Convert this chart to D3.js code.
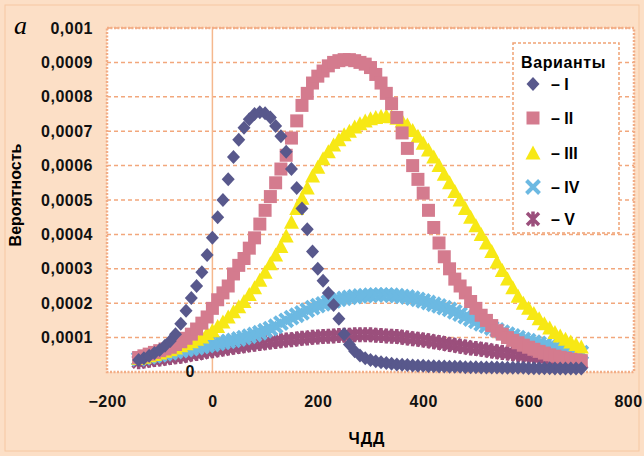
<!DOCTYPE html>
<html>
<head>
<meta charset="utf-8">
<script src="https://cdn.jsdelivr.net/npm/d3@7"></script>
<style>
  body { margin: 0; background: #fce2cb; }
  text { font-family: "Liberation Sans", Arial, sans-serif; }
</style>
</head>
<body>
<div id="my_dataviz"></div>
<script>

// x values (ЧДД)
var xs = [-140,-130,-120,-110,-100,-90,-80,-70,-60,-50,
          -40,-30,-20,-10,0,10,20,30,40,50,
          60,70,80,90,100,110,120,130,140,150,
          160,170,180,190,200,210,220,230,240,250,
          260,270,280,290,300,310,320,330,340,350,
          360,370,380,390,400,410,420,430,440,450,
          460,470,480,490,500,510,520,530,540,550,
          560,570,580,590,600,610,620,630,640,650,
          660,670,680,690,700];

// probabilities, in units of 0.0001
var seriesI = [0.35,0.4,0.47,0.55,0.64,0.76,0.9,1.1,1.4,1.78,
               2.15,2.5,2.9,3.4,3.9,4.5,5.0,5.6,6.25,6.75,
               7.1,7.35,7.5,7.55,7.52,7.4,7.15,6.85,6.4,5.9,
               5.35,4.75,4.15,3.5,3.0,2.65,2.3,1.95,1.55,1.1,
               0.8,0.6,0.48,0.4,0.35,0.31,0.28,0.26,0.24,0.22,
               0.21,0.2,0.19,0.18,0.18,0.17,0.17,0.16,0.16,0.15,
               0.15,0.15,0.14,0.14,0.14,0.13,0.13,0.13,0.13,0.12,
               0.12,0.12,0.12,0.12,0.11,0.11,0.11,0.11,0.11,0.1,
               0.1,0.1,0.1,0.1,0.1];
var seriesII = [0.42,0.47,0.52,0.57,0.62,0.67,0.72,0.8,0.88,0.98,
                1.1,1.25,1.42,1.6,1.85,2.1,2.3,2.5,2.85,3.1,
                3.3,3.6,3.9,4.3,4.7,5.1,5.5,5.9,6.3,6.8,
                7.3,7.75,8.1,8.4,8.6,8.75,8.9,9.0,9.05,9.08,
                9.08,9.05,9.0,8.95,8.85,8.65,8.4,8.1,7.8,7.4,
                6.95,6.5,6.0,5.6,5.2,4.7,4.2,3.75,3.35,3.0,
                2.7,2.5,2.3,2.05,1.85,1.65,1.5,1.35,1.2,1.1,
                1.0,0.92,0.85,0.78,0.72,0.66,0.6,0.55,0.5,0.46,
                0.43,0.4,0.37,0.35,0.33];
var seriesIII = [0.4,0.43,0.47,0.51,0.55,0.6,0.65,0.7,0.76,0.82,
                 0.88,0.95,1.02,1.12,1.2,1.32,1.45,1.6,1.75,1.9,
                 2.05,2.25,2.45,2.67,2.9,3.15,3.4,3.65,3.95,4.35,
                 4.75,5.05,5.35,5.7,5.95,6.2,6.4,6.6,6.75,6.9,
                 7.0,7.12,7.22,7.3,7.36,7.4,7.43,7.44,7.42,7.38,
                 7.3,7.18,7.02,6.85,6.65,6.45,6.25,6.0,5.75,5.5,
                 5.25,5.0,4.75,4.5,4.25,4.0,3.75,3.5,3.2,2.95,
                 2.7,2.45,2.2,2.0,1.85,1.7,1.55,1.4,1.28,1.15,
                 1.05,0.95,0.87,0.8,0.73];
var seriesIV = [0.38,0.41,0.44,0.47,0.5,0.53,0.56,0.59,0.62,0.65,
                0.68,0.71,0.74,0.77,0.8,0.83,0.86,0.89,0.92,0.96,
                1.0,1.04,1.09,1.14,1.2,1.26,1.33,1.42,1.5,1.58,
                1.65,1.72,1.8,1.87,1.93,1.98,2.03,2.07,2.11,2.14,
                2.17,2.19,2.21,2.22,2.23,2.24,2.24,2.24,2.23,2.22,
                2.2,2.18,2.15,2.11,2.07,2.02,1.97,1.92,1.87,1.82,
                1.75,1.68,1.61,1.54,1.47,1.4,1.34,1.28,1.22,1.16,
                1.1,1.05,1.0,0.95,0.91,0.87,0.83,0.79,0.75,0.71,
                0.68,0.65,0.62,0.59,0.56];
var seriesV = [0.3,0.32,0.34,0.36,0.38,0.4,0.42,0.44,0.46,0.49,
               0.52,0.54,0.57,0.6,0.62,0.65,0.67,0.7,0.72,0.74,
               0.76,0.79,0.81,0.83,0.85,0.87,0.89,0.91,0.93,0.94,
               0.96,0.98,0.99,1.01,1.02,1.03,1.04,1.05,1.06,1.07,
               1.07,1.08,1.08,1.08,1.08,1.07,1.06,1.05,1.04,1.03,
               1.01,0.99,0.97,0.95,0.93,0.91,0.88,0.86,0.83,0.8,
               0.78,0.75,0.73,0.7,0.68,0.66,0.64,0.61,0.59,0.57,
               0.55,0.53,0.51,0.48,0.46,0.44,0.42,0.4,0.38,0.36,
               0.34,0.32,0.3,0.29,0.28];

var seriesNames = ["– I", "– II", "– III", "– IV", "– V"];
var xTicks = [-200, 0, 200, 400, 600, 800];
var yTicks = [1, 2, 3, 4, 5, 6, 7, 8, 9, 10];
var yTickLabels = ["0,0001","0,0002","0,0003","0,0004","0,0005","0,0006","0,0007","0,0008","0,0009","0,001"];

var W = 644, H = 456;

var svg = d3.select("#my_dataviz")
  .append("svg")
  .attr("width", W)
  .attr("height", H);

// background
svg.append("rect")
  .attr("width", W).attr("height", H)
  .attr("fill", "#fcdfc6");
svg.append("rect")
  .attr("x", 5).attr("y", 5).attr("width", 634).attr("height", 446)
  .attr("fill", "none").attr("stroke", "#f6c8a2");

var x = d3.scaleLinear().domain([-200, 800]).range([107, 634]);
var y = d3.scaleLinear().domain([0, 10]).range([372, 28]);

// plot area
svg.append("rect")
  .attr("x", x(-200)).attr("y", y(10))
  .attr("width", x(800) - x(-200)).attr("height", y(0) - y(10))
  .attr("fill", "white");

// horizontal grid
svg.append("g")
  .selectAll("line")
  .data(yTicks)
  .enter()
  .append("line")
    .attr("x1", x(-200)).attr("x2", x(800))
    .attr("y1", function(d) { return y(d) })
    .attr("y2", function(d) { return y(d) })
    .attr("stroke", "#f2a77c")
    .attr("stroke-width", 1.5)
    .attr("stroke-dasharray", "4,3");

// y axis line at x = 0
svg.append("line")
  .attr("x1", x(0)).attr("x2", x(0))
  .attr("y1", y(10)).attr("y2", y(0))
  .attr("stroke", "#f5b88e")
  .attr("stroke-width", 1.5);

// plot border
svg.append("rect")
  .attr("x", x(-200)).attr("y", y(10))
  .attr("width", x(800) - x(-200)).attr("height", y(0) - y(10))
  .attr("fill", "none")
  .attr("stroke", "#f2ad86")
  .attr("stroke-width", 2.5)
  .attr("stroke-dasharray", "2,1.5");

// marker shapes
var markers = [
  { d: "M0,-7L6.5,0L0,7L-6.5,0Z", fill: "#58588c", stroke: "none", sw: 0 },
  { d: "M-6.5,-6.5h13v13h-13Z", fill: "#d47b8e", stroke: "none", sw: 0 },
  { d: "M0,-7.5L7.5,6.5H-7.5Z", fill: "#f7e815", stroke: "none", sw: 0 },
  { d: "M-6.5,-6.5L6.5,6.5M6.5,-6.5L-6.5,6.5", fill: "none", stroke: "#6cb9e2", sw: 4 },
  { d: "M-6,-6L6,6M6,-6L-6,6M0,-7.5V7.5", fill: "none", stroke: "#9b4f7c", sw: 3.5 }
];
var allSeries = [seriesI, seriesII, seriesIII, seriesIV, seriesV];

// draw last series first, so series I ends up on top
for (var s = allSeries.length - 1; s >= 0; s--) {
  var m = markers[s];
  svg.append("g")
    .selectAll("path")
    .data(allSeries[s])
    .enter()
    .append("path")
      .attr("transform", function(d, i) { return "translate(" + x(xs[i]) + "," + y(d) + ")" })
      .attr("d", m.d)
      .attr("fill", m.fill)
      .attr("stroke", m.stroke)
      .attr("stroke-width", m.sw);
}

// x axis labels
var xAxis = svg.append("g")
  .attr("transform", "translate(0," + y(0) + ")")
  .style("font-size", "16px")
  .style("font-weight", "bold")
  .call(d3.axisBottom(x).tickValues(xTicks).tickSize(0).tickPadding(24))
  .call(function(g) { g.select(".domain").remove() });
xAxis.selectAll("text")
  .attr("fill", "#111")
  .style("font-family", "Liberation Sans, Arial, sans-serif")
  .style("letter-spacing", "0.5px");
// last label is pushed in a little so it stays inside the picture
xAxis.selectAll(".tick").filter(function(d) { return d === 800 })
  .select("text").attr("x", -6);

// y axis labels
svg.append("g")
  .attr("transform", "translate(96,0)")
  .style("font-size", "16px")
  .style("font-weight", "bold")
  .call(d3.axisLeft(y).tickValues(yTicks).tickSize(0).tickPadding(3)
    .tickFormat(function(d, i) { return yTickLabels[i] }))
  .call(function(g) { g.select(".domain").remove() })
  .selectAll("text")
    .attr("fill", "#111")
    .style("font-family", "Liberation Sans, Arial, sans-serif")
    .style("letter-spacing", "0.5px");

// zero label sits next to the x = 0 line
svg.append("text")
  .attr("x", x(0) - 18).attr("y", y(0))
  .attr("dy", "0.32em")
  .attr("text-anchor", "end")
  .style("font-size", "16px").style("font-weight", "bold")
  .attr("fill", "#111")
  .text("0");

// axis titles
svg.append("text")
  .attr("x", 367).attr("y", 444)
  .attr("text-anchor", "middle")
  .style("font-size", "16px").style("font-weight", "bold")
  .style("letter-spacing", "1px")
  .text("ЧДД");

svg.append("text")
  .attr("transform", "translate(21,195) rotate(-90)")
  .attr("text-anchor", "middle")
  .style("font-size", "16px").style("font-weight", "bold")
  .text("Вероятность");

svg.append("text")
  .attr("x", 14).attr("y", 34)
  .style("font-family", "Liberation Serif, DejaVu Serif, serif")
  .style("font-style", "italic")
  .style("font-size", "26px")
  .text("a");

// legend
var legend = svg.append("g");
legend.append("rect")
  .attr("x", 513).attr("y", 43).attr("width", 106).attr("height", 190)
  .attr("fill", "white")
  .attr("stroke", "#f0a274")
  .attr("stroke-width", 1.5)
  .attr("stroke-dasharray", "3,2");
legend.append("text")
  .attr("x", 521).attr("y", 62).attr("dy", "0.35em")
  .style("font-size", "16px").style("font-weight", "bold")
  .style("letter-spacing", "0.6px")
  .text("Варианты");

var legendY = [84, 118, 153, 187, 219];
seriesNames.forEach(function(name, i) {
  var m = markers[i];
  legend.append("path")
    .attr("transform", "translate(533," + legendY[i] + ")")
    .attr("d", m.d)
    .attr("fill", m.fill)
    .attr("stroke", m.stroke)
    .attr("stroke-width", m.sw);
  legend.append("text")
    .attr("x", 551).attr("y", legendY[i]).attr("dy", "0.35em")
    .style("font-size", "16px").style("font-weight", "bold")
    .text(name);
});

</script>
</body>
</html>
